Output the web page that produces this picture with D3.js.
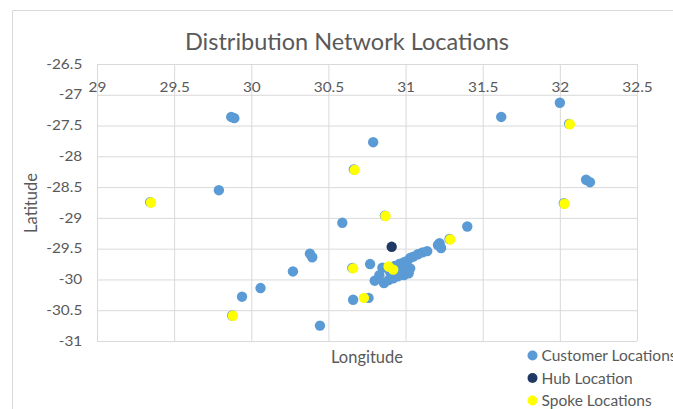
<!DOCTYPE html>
<html>
<head>
<meta charset="utf-8">
<script src="https://cdn.jsdelivr.net/npm/d3@7"></script>
<style>
  html, body { margin: 0; padding: 0; background: #fff; }
  svg { display: block; font-family: Lato, "Open Sans", sans-serif; }
</style>
</head>
<body>
<svg id="chart" width="673" height="409"></svg>
<script>
// Customer, hub and spoke locations as [longitude, latitude]
const customerLocations = [
  [29.87, -27.36], [29.89, -27.38], [31.62, -27.36], [32.00, -27.13],
  [30.79, -27.77], [29.79, -28.55], [32.17, -28.38], [32.195, -28.42],
  [31.40, -29.14], [30.59, -29.08], [30.38, -29.58], [30.395, -29.64],
  [30.27, -29.87], [30.06, -30.14], [29.94, -30.28], [30.445, -30.75],
  [30.66, -30.33], [30.76, -30.30], [29.345, -28.745], [29.876, -30.585],
  [30.665, -28.213], [30.866, -28.963], [32.06, -27.472], [32.026, -28.762],
  [31.285, -29.343], [31.22, -29.41], [31.23, -29.49], [31.21, -29.44],
  [31.14, -29.54], [31.11, -29.56], [31.08, -29.59], [31.05, -29.63],
  [31.03, -29.65], [31.01, -29.70], [30.99, -29.72], [30.96, -29.75],
  [31.00, -29.79], [31.03, -29.82], [31.02, -29.90], [30.99, -29.93],
  [30.95, -29.95], [30.92, -29.98], [30.89, -30.01], [30.86, -30.06],
  [30.80, -30.02], [30.83, -29.93], [30.85, -29.81], [30.77, -29.75],
  [30.94, -29.84], [30.97, -29.87], [30.655, -29.813], [30.90, -29.88],
  [30.93, -29.78]
];
const hubLocations = [[30.91, -29.47]];
const spokeLocations = [
  [29.35, -28.75], [29.88, -30.59], [30.67, -28.22], [30.87, -28.97],
  [32.065, -27.48], [32.03, -28.77], [31.29, -29.35], [30.66, -29.82],
  [30.73, -30.30], [30.89, -29.79], [30.92, -29.84]
];
const xTicks = [29, 29.5, 30, 30.5, 31, 31.5, 32, 32.5];
const yTicks = [-26.5, -27, -27.5, -28, -28.5, -29, -29.5, -30, -30.5, -31];
const seriesNames = ["Customer Locations", "Hub Location", "Spoke Locations"];
const seriesColors = ["#5B9BD5", "#1F3864", "#FFFF00"];

const svg = d3.select("#chart");
const margin = { left: 97, top: 64, right: 36, bottom: 68 };
const W = 673, H = 409;
const plotW = W - margin.left - margin.right;
const plotH = H - margin.top - margin.bottom;
const textColor = "#595959";
const gridColor = "#D9D9D9";
const stretch = 1.18; // horizontal widening of tick labels

// Chart frame
svg.append("path")
  .attr("d", `M12.5,${H} V10.5 H${W}`)
  .attr("fill", "none").attr("stroke", gridColor);

const x = d3.scaleLinear().domain([29, 32.5]).range([0, plotW]);
const y = d3.scaleLinear().domain([-26.5, -31]).range([0, plotH]);

const g = svg.append("g").attr("transform", `translate(${margin.left},${margin.top})`);

// Gridlines
g.append("g")
  .attr("transform", `translate(0,${plotH})`)
  .call(d3.axisBottom(x).tickValues(xTicks).tickSize(-plotH).tickFormat(""))
  .call(s => s.select(".domain").remove())
  .call(s => s.selectAll("line").attr("stroke", gridColor));
g.append("g")
  .call(d3.axisLeft(y).tickValues(yTicks).tickSize(-plotW).tickFormat(""))
  .call(s => s.select(".domain").remove())
  .call(s => s.selectAll("line").attr("stroke", gridColor));

// Horizontal axis labels sit just under the top edge
g.append("g")
  .call(d3.axisBottom(x).tickValues(xTicks).tickSize(0).tickPadding(19).tickFormat(d => String(d)))
  .call(s => s.select(".domain").remove())
  .call(s => s.selectAll("text")
    .attr("fill", textColor)
    .attr("transform", `scale(${stretch},1)`)
    .style("font-size", "13px")
    .style("font-family", "Lato, sans-serif"));

// Vertical axis labels
g.append("g")
  .call(d3.axisLeft(y).tickValues(yTicks).tickSize(0).tickPadding(12.5).tickFormat(d => String(d)))
  .call(s => s.select(".domain").remove())
  .call(s => s.selectAll("text")
    .attr("fill", textColor)
    .attr("transform", `scale(${stretch},1)`)
    .style("font-size", "13px")
    .style("font-family", "Lato, sans-serif"));

// Markers
const series = [customerLocations, hubLocations, spokeLocations];
series.forEach((pts, i) => {
  g.append("g").selectAll("circle")
    .data(pts)
    .join("circle")
    .attr("cx", d => x(d[0]))
    .attr("cy", d => y(d[1]))
    .attr("r", 5.2)
    .attr("fill", seriesColors[i]);
});

// Title and axis titles
svg.append("text")
  .attr("x", 347).attr("y", 50)
  .attr("text-anchor", "middle")
  .attr("fill", textColor)
  .style("font-size", "23.5px")
  .text("Distribution Network Locations");

svg.append("text")
  .attr("transform", "translate(36.5,203) rotate(-90)")
  .attr("text-anchor", "middle")
  .attr("fill", textColor)
  .style("font-size", "16.5px")
  .text("Latitude");

svg.append("text")
  .attr("x", 367).attr("y", 363)
  .attr("text-anchor", "middle")
  .attr("fill", textColor)
  .style("font-size", "16.5px")
  .text("Longitude");

// Legend
const legend = svg.append("g").attr("transform", "translate(532.5,355.5)");
seriesNames.forEach((name, i) => {
  const row = legend.append("g").attr("transform", `translate(0,${i * 22.5})`);
  row.append("circle").attr("r", 5).attr("fill", seriesColors[i]);
  row.append("text").attr("x", 9).attr("y", 5.5)
    .attr("fill", textColor).style("font-size", "15.5px").text(name);
});
</script>
</body>
</html>
